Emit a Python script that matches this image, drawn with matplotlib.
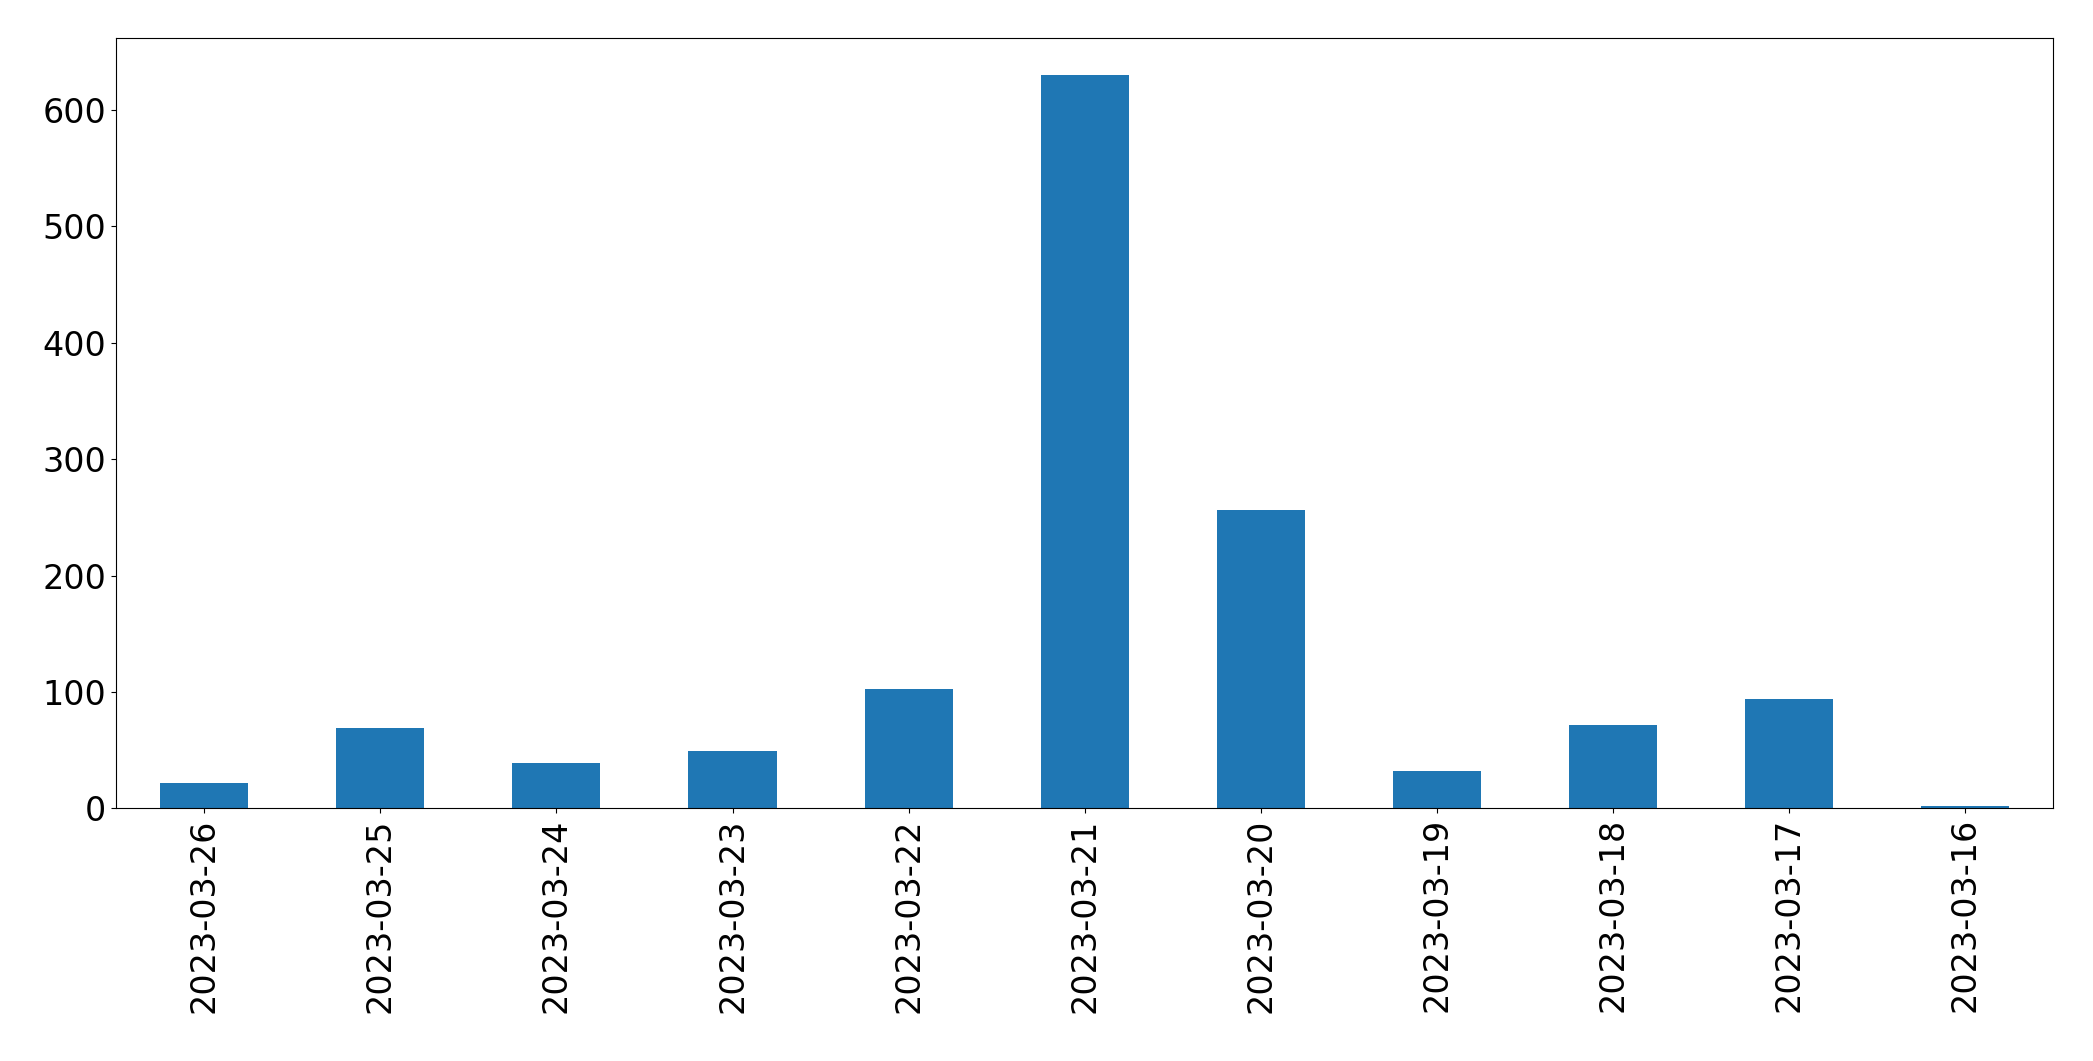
import matplotlib
matplotlib.use('Agg')
import matplotlib.pyplot as plt
import pandas as pd

# Daily counts
dates = ['2023-03-26', '2023-03-25', '2023-03-24', '2023-03-23', '2023-03-22', '2023-03-21',
         '2023-03-20', '2023-03-19', '2023-03-18', '2023-03-17', '2023-03-16']
counts = [22, 69, 39, 49, 103, 630, 256, 32, 72, 94, 2]

series = pd.Series(counts, index=dates)

fig = plt.figure(figsize=(20.93, 10.61), dpi=100)
ax = fig.add_axes([0.0555, 0.238, 0.9255, 0.726])
series.plot(kind='bar', ax=ax, color='#1f77b4')
ax.tick_params(axis='both', labelsize=24)
plt.setp(ax.get_xticklabels(), rotation=90)

plt.savefig('out.png', dpi=100)
